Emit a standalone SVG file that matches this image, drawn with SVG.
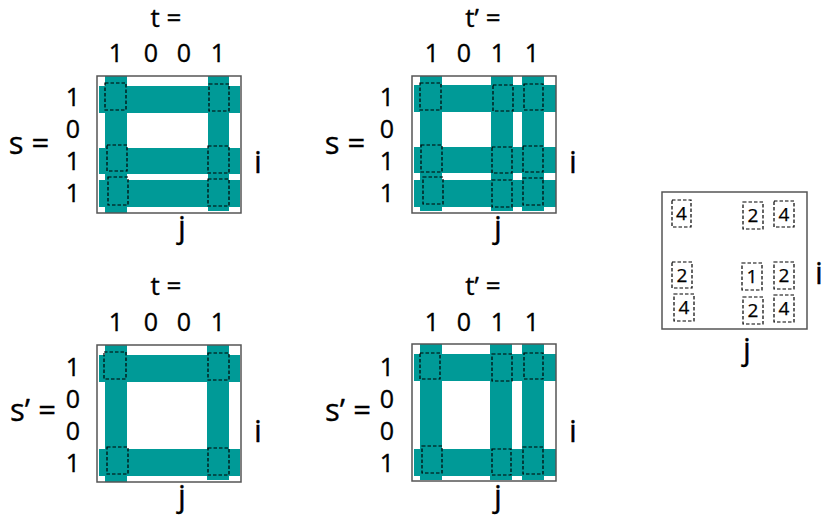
<svg xmlns="http://www.w3.org/2000/svg" width="822" height="515" viewBox="0 0 822 515">
  <style>
    text { font-family: "Open Sans", "Noto Sans", "DejaVu Sans", sans-serif; fill: #000; stroke: #000; stroke-width: 0.35; text-anchor: middle; }
    .d { font-size: 25px; }
    .lbl { font-size: 31px; }
    .hd { font-size: 26px; }
    .n { font-size: 19px; stroke-width: 0.25; }
    .box { fill: none; stroke: #555; stroke-width: 1.5; }
    .bar { fill: #009a97; }
    .cell { fill: none; stroke: #000; stroke-width: 1.2; stroke-dasharray: 3.5 2; }
  </style>
  <rect width="822" height="515" fill="#fff"/>

  <!-- top-left: s = 1011, t = 1001 -->
  <g id="panel-s-t">
    <text class="hd" x="166" y="27">t =</text>
    <text class="d" x="116" y="62">1</text>
    <text class="d" x="151" y="62">0</text>
    <text class="d" x="184" y="62">0</text>
    <text class="d" x="218" y="62">1</text>
    <text class="lbl" x="29" y="154">s =</text>
    <text class="d" x="73" y="106">1</text>
    <text class="d" x="73" y="138">0</text>
    <text class="d" x="73" y="170">1</text>
    <text class="d" x="73" y="202">1</text>
    <text class="lbl" x="258" y="173">i</text>
    <text class="lbl" x="182" y="238">j</text>
    <rect class="bar" x="105" y="76" width="22" height="137"/>
    <rect class="bar" x="208" y="76" width="21" height="135"/>
    <rect class="bar" x="99" y="86" width="141" height="27"/>
    <rect class="bar" x="99" y="148" width="141" height="26"/>
    <rect class="bar" x="99" y="180" width="141" height="27"/>
    <rect class="box" x="97" y="76" width="144" height="137"/>
    <rect class="cell" x="105" y="83" width="21" height="27"/>
    <rect class="cell" x="209" y="84" width="20" height="27"/>
    <rect class="cell" x="107" y="145" width="20" height="26"/>
    <rect class="cell" x="208" y="146" width="21" height="27"/>
    <rect class="cell" x="108" y="177" width="20" height="28"/>
    <rect class="cell" x="208" y="179" width="21" height="27"/>
  </g>

  <!-- top-right: s = 1011, t' = 1011 -->
  <g id="panel-s-t2">
    <text class="hd" x="483" y="27">t’ =</text>
    <text class="d" x="432" y="62">1</text>
    <text class="d" x="464" y="62">0</text>
    <text class="d" x="498" y="62">1</text>
    <text class="d" x="532" y="62">1</text>
    <text class="lbl" x="345" y="154">s =</text>
    <text class="d" x="387" y="106">1</text>
    <text class="d" x="387" y="138">0</text>
    <text class="d" x="387" y="170">1</text>
    <text class="d" x="387" y="202">1</text>
    <text class="lbl" x="573" y="173">i</text>
    <text class="lbl" x="498" y="238">j</text>
    <rect class="bar" x="420" y="76" width="22" height="135"/>
    <rect class="bar" x="491" y="76" width="22" height="135"/>
    <rect class="bar" x="522" y="76" width="22" height="135"/>
    <rect class="bar" x="414" y="85" width="142" height="27"/>
    <rect class="bar" x="414" y="147" width="142" height="26"/>
    <rect class="bar" x="414" y="180" width="142" height="27"/>
    <rect class="box" x="412" y="76" width="144" height="137"/>
    <rect class="cell" x="420" y="83" width="21" height="27"/>
    <rect class="cell" x="493" y="85" width="20" height="26"/>
    <rect class="cell" x="524" y="84" width="19" height="26"/>
    <rect class="cell" x="421" y="145" width="21" height="27"/>
    <rect class="cell" x="492" y="147" width="20" height="26"/>
    <rect class="cell" x="523" y="146" width="20" height="26"/>
    <rect class="cell" x="423" y="177" width="20" height="27"/>
    <rect class="cell" x="492" y="180" width="20" height="27"/>
    <rect class="cell" x="523" y="178" width="20" height="27"/>
  </g>

  <!-- bottom-left: s' = 1001, t = 1001 -->
  <g id="panel-s2-t">
    <text class="hd" x="166" y="295">t =</text>
    <text class="d" x="116" y="331">1</text>
    <text class="d" x="151" y="331">0</text>
    <text class="d" x="184" y="331">0</text>
    <text class="d" x="218" y="331">1</text>
    <text class="lbl" x="33" y="421">s’ =</text>
    <text class="d" x="73" y="376">1</text>
    <text class="d" x="73" y="408">0</text>
    <text class="d" x="73" y="440">0</text>
    <text class="d" x="73" y="472">1</text>
    <text class="lbl" x="258" y="442">i</text>
    <text class="lbl" x="182" y="507">j</text>
    <rect class="bar" x="105" y="345" width="22" height="137"/>
    <rect class="bar" x="207" y="345" width="22" height="135"/>
    <rect class="bar" x="99" y="355" width="141" height="27"/>
    <rect class="bar" x="99" y="449" width="141" height="27"/>
    <rect class="box" x="97" y="345" width="144" height="137"/>
    <rect class="cell" x="104" y="352" width="22" height="27"/>
    <rect class="cell" x="208" y="353" width="21" height="27"/>
    <rect class="cell" x="107" y="447" width="21" height="27"/>
    <rect class="cell" x="208" y="448" width="21" height="27"/>
  </g>

  <!-- bottom-right: s' = 1001, t' = 1011 -->
  <g id="panel-s2-t2">
    <text class="hd" x="483" y="295">t’ =</text>
    <text class="d" x="432" y="331">1</text>
    <text class="d" x="464" y="331">0</text>
    <text class="d" x="498" y="331">1</text>
    <text class="d" x="532" y="331">1</text>
    <text class="lbl" x="348" y="421">s’ =</text>
    <text class="d" x="387" y="376">1</text>
    <text class="d" x="387" y="408">0</text>
    <text class="d" x="387" y="440">0</text>
    <text class="d" x="387" y="472">1</text>
    <text class="lbl" x="573" y="442">i</text>
    <text class="lbl" x="498" y="507">j</text>
    <rect class="bar" x="420" y="344" width="22" height="136"/>
    <rect class="bar" x="490" y="344" width="22" height="136"/>
    <rect class="bar" x="522" y="344" width="22" height="136"/>
    <rect class="bar" x="414" y="354" width="142" height="27"/>
    <rect class="bar" x="414" y="449" width="142" height="27"/>
    <rect class="box" x="412" y="344" width="144" height="137"/>
    <rect class="cell" x="420" y="353" width="20" height="26"/>
    <rect class="cell" x="492" y="354" width="20" height="27"/>
    <rect class="cell" x="524" y="353" width="19" height="26"/>
    <rect class="cell" x="422" y="446" width="20" height="27"/>
    <rect class="cell" x="492" y="449" width="19" height="26"/>
    <rect class="cell" x="523" y="447" width="20" height="27"/>
  </g>

  <!-- summed counts -->
  <g id="panel-counts">
    <rect class="box" x="662" y="192" width="145" height="137"/>
    <text class="lbl" x="819" y="284">i</text>
    <text class="lbl" x="747" y="360">j</text>
    <rect class="cell" x="672" y="200" width="19" height="27"/>
    <text class="n" x="681.5" y="220">4</text>
    <rect class="cell" x="743" y="202" width="20" height="27"/>
    <text class="n" x="753" y="222">2</text>
    <rect class="cell" x="774" y="201" width="20" height="26"/>
    <text class="n" x="784" y="221">4</text>
    <rect class="cell" x="672" y="262" width="20" height="26"/>
    <text class="n" x="682" y="282">2</text>
    <rect class="cell" x="742" y="263" width="20" height="27"/>
    <text class="n" x="752" y="283">1</text>
    <rect class="cell" x="774" y="262" width="20" height="27"/>
    <text class="n" x="784" y="282">2</text>
    <rect class="cell" x="674" y="294" width="20" height="27"/>
    <text class="n" x="684" y="314">4</text>
    <rect class="cell" x="743" y="297" width="20" height="27"/>
    <text class="n" x="753" y="317">2</text>
    <rect class="cell" x="774" y="295" width="20" height="27"/>
    <text class="n" x="784" y="315">4</text>
  </g>
</svg>
